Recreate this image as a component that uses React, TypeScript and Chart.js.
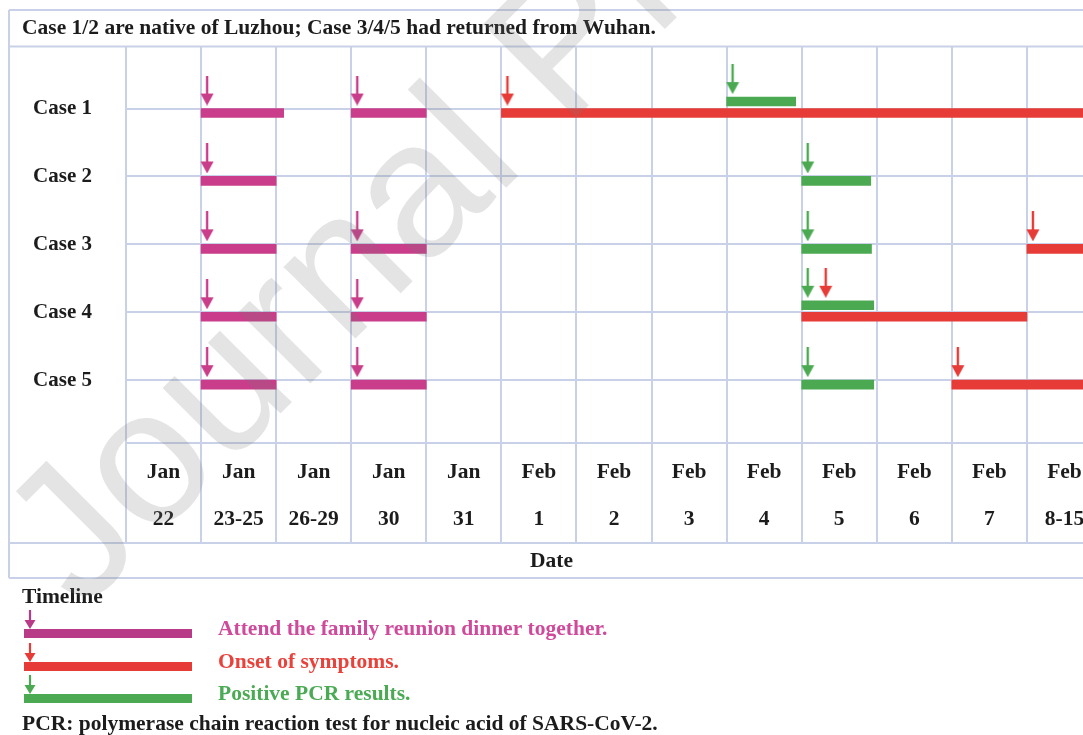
import React, { useEffect, useRef } from 'react';
import { Chart, registerables } from 'chart.js';

Chart.register(...registerables);

// ---------------- data ----------------
const TITLE_TEXT = 'Case 1/2 are native of Luzhou; Case 3/4/5 had returned from Wuhan.';
const DATE_MONTHS = ['Jan', 'Jan', 'Jan', 'Jan', 'Jan', 'Feb', 'Feb', 'Feb', 'Feb', 'Feb', 'Feb', 'Feb', 'Feb'];
const DATE_DAYS = ['22', '23-25', '26-29', '30', '31', '1', '2', '3', '4', '5', '6', '7', '8-15'];
const CASES = ['Case 1', 'Case 2', 'Case 3', 'Case 4', 'Case 5'];
const X_AXIS_TITLE = 'Date';

// [case number, first date column, end column, lane (0 = on the row line, 1 = above it)]
const DINNER_EVENTS: number[][] = [
  [1, 1, 2.1, 0], [1, 3, 4, 0],
  [2, 1, 2, 0],
  [3, 1, 2, 0], [3, 3, 4, 0],
  [4, 1, 2, 0], [4, 3, 4, 0],
  [5, 1, 2, 0], [5, 3, 4, 0],
];
const PCR_EVENTS: number[][] = [
  [1, 8, 8.92, 1],
  [2, 9, 9.92, 0],
  [3, 9, 9.93, 0],
  [4, 9, 9.96, 1],
  [5, 9, 9.96, 0],
];
const ONSET_EVENTS: number[][] = [
  [1, 5, 13, 0],
  [3, 12, 13, 0],
  [4, 9, 12, 0],
  [5, 11, 13, 0],
];

const LEGEND_TITLE = 'Timeline';
const LEGEND_LABELS = [
  'Attend the family reunion dinner together.',
  'Onset of symptoms.',
  'Positive PCR results.',
];
const FOOTNOTE = 'PCR: polymerase chain reaction test for nucleic acid of SARS-CoV-2.';
const WATERMARK = 'Journal Pre-proof';

// ---------------- style / layout ----------------
const SERIF = '"Liberation Serif", "Times New Roman", serif';
const INK = '#1c1c1c';
const GRID = '#C8D1E7';
const PINK = '#C93D8A';
const RED = '#E63B36';
const GREEN = '#4BAA51';
const LEGEND_BAR_COLORS = ['#B83B87', '#E63B36', '#4BAA51'];
const LEGEND_TEXT_COLORS = ['#CF4A9B', '#E8423B', '#4BAA54'];
const FONT_PX = 21.5;

const CANVAS_W = 1111;
const CANVAS_H = 735;
const CHART_TOP = 46;
const CHART_BOTTOM = 443;
const Y_MIN = 0.088;
const Y_MAX = 5.926;
const UNIT_PX = (CHART_BOTTOM - CHART_TOP) / (Y_MAX - Y_MIN);
const LANE_SHIFT_PX = [4.5, -7];
const BAR_PX = 9;
const ARROW_DX = 0.08;
const ARROW_STEP = 0.24;

function makeArrow(color: string, w: number, h: number, headH: number, shaftW: number) {
  const c = document.createElement('canvas');
  c.width = w;
  c.height = h;
  const ctx = c.getContext('2d')!;
  ctx.fillStyle = color;
  ctx.fillRect(w / 2 - shaftW / 2, 0, shaftW, h - headH + 1);
  ctx.beginPath();
  ctx.moveTo(0.5, h - headH);
  ctx.lineTo(w - 0.5, h - headH);
  ctx.lineTo(w / 2, h);
  ctx.closePath();
  ctx.fill();
  return c;
}

function barData(events: number[][]) {
  return events.map(([c, s, e, lane]) => ({ x: [s, e], y: c + LANE_SHIFT_PX[lane] / UNIT_PX }));
}

function buildArrows(seriesList: number[][][]) {
  const all = seriesList.flat();
  const used = new Map<string, number>();
  return seriesList.map((events) =>
    events.map(([c, s]) => {
      const key = c + ':' + s;
      const n = used.get(key) || 0;
      used.set(key, n + 1);
      const topLane = Math.max(...all.filter((e) => e[0] === c && e[1] === s).map((e) => e[3]));
      const tipPx = LANE_SHIFT_PX[topLane] - BAR_PX / 2 - 3;
      return { x: s + ARROW_DX + n * ARROW_STEP, y: c + (tipPx - 15) / UNIT_PX };
    })
  );
}

const framePlugin = {
  id: 'tableFrame',
  beforeDraw(chart: any) {
    const { ctx, width } = chart;
    const xScale = chart.scales.x;
    ctx.save();
    ctx.fillStyle = '#ffffff';
    ctx.fillRect(0, 0, width, chart.height);

    const left = 9;
    const top = 10;
    const bottom = 578;
    const dateLine = xScale.bottom;
    ctx.strokeStyle = GRID;
    ctx.lineWidth = 2;
    ctx.beginPath();
    [top, chart.chartArea.top, dateLine, bottom].forEach((y) => {
      ctx.moveTo(left, y);
      ctx.lineTo(width, y);
    });
    ctx.moveTo(left, top);
    ctx.lineTo(left, bottom);
    ctx.stroke();

    ctx.fillStyle = INK;
    ctx.textBaseline = 'middle';
    ctx.textAlign = 'left';
    ctx.font = 'bold ' + FONT_PX + 'px ' + SERIF;
    ctx.fillText(TITLE_TEXT, 22, 28);

    ctx.textAlign = 'center';
    ctx.fillText(X_AXIS_TITLE, (left + chart.chartArea.right) / 2 - 4, (dateLine + bottom) / 2 + 1);

    ctx.textAlign = 'left';
    ctx.fillText(LEGEND_TITLE, 22, 597);

    const rowY = [629, 662, 694];
    LEGEND_LABELS.forEach((label, i) => {
      const y = rowY[i];
      ctx.fillStyle = LEGEND_BAR_COLORS[i];
      ctx.fillRect(24, y, 168, 9);
      const arrow = makeArrow(LEGEND_BAR_COLORS[i], 12, 19, 9, 2.2);
      ctx.drawImage(arrow, 30 - 6, y - 19);
      ctx.fillStyle = LEGEND_TEXT_COLORS[i];
      ctx.fillText(label, 218, y);
    });

    ctx.fillStyle = INK;
    ctx.fillText(FOOTNOTE, 22, 724);
    ctx.restore();
  },
  afterDraw(chart: any) {
    const { ctx } = chart;
    ctx.save();
    ctx.translate(82, 612);
    ctx.rotate(-Math.PI / 4);
    ctx.font = '192px "Liberation Sans", Arial, sans-serif';
    ctx.fillStyle = 'rgba(120,120,120,0.2)';
    ctx.textBaseline = 'alphabetic';
    ctx.fillText(WATERMARK, 0, 0);
    ctx.restore();
  },
};

export default function App() {
  const ref = useRef<HTMLCanvasElement>(null);

  useEffect(() => {
    if (!ref.current) return;
    const [dinnerArrows, pcrArrows, onsetArrows] = buildArrows([DINNER_EVENTS, PCR_EVENTS, ONSET_EVENTS]);
    const arrowPink = makeArrow(PINK, 14, 30, 12, 2.4);
    const arrowGreen = makeArrow(GREEN, 14, 30, 12, 2.4);
    const arrowRed = makeArrow(RED, 14, 30, 12, 2.4);

    const chart = new Chart(ref.current, {
      type: 'bar',
      data: {
        datasets: [
          { type: 'scatter', label: 'dinner arrow', data: dinnerArrows, pointStyle: arrowPink, pointRadius: 6, order: 0 } as any,
          { type: 'scatter', label: 'pcr arrow', data: pcrArrows, pointStyle: arrowGreen, pointRadius: 6, order: 0 } as any,
          { type: 'scatter', label: 'onset arrow', data: onsetArrows, pointStyle: arrowRed, pointRadius: 6, order: 0 } as any,
          { type: 'bar', label: LEGEND_LABELS[0], data: barData(DINNER_EVENTS), backgroundColor: PINK, order: 1 } as any,
          { type: 'bar', label: LEGEND_LABELS[1], data: barData(ONSET_EVENTS), backgroundColor: RED, order: 1 } as any,
          { type: 'bar', label: LEGEND_LABELS[2], data: barData(PCR_EVENTS), backgroundColor: GREEN, order: 1 } as any,
        ],
      },
      options: {
        indexAxis: 'y',
        responsive: false,
        maintainAspectRatio: false,
        animation: false,
        devicePixelRatio: 1,
        events: [],
        layout: { padding: { top: CHART_TOP, left: 0, right: 9, bottom: CANVAS_H - CHART_BOTTOM - 100 } },
        datasets: {
          bar: {
            grouped: false,
            barThickness: BAR_PX,
            categoryPercentage: 1,
            barPercentage: 1,
            borderWidth: 0,
            borderSkipped: false,
          },
        } as any,
        plugins: {
          legend: { display: false },
          tooltip: { enabled: false },
          title: { display: false },
        },
        scales: {
          x: {
            type: 'linear',
            position: 'bottom',
            offset: false,
            min: 0,
            max: DATE_DAYS.length,
            afterBuildTicks: (axis: any) => {
              axis.ticks = DATE_DAYS.map((_, i) => ({ value: i + 0.5 }));
            },
            afterFit: (axis: any) => {
              axis.height = 100;
            },
            grid: {
              offset: true,
              color: GRID,
              lineWidth: 2,
              drawTicks: true,
              tickLength: 100,
              tickColor: GRID,
              tickWidth: 2,
            },
            border: { display: true, color: GRID, width: 2 },
            ticks: {
              autoSkip: false,
              maxRotation: 0,
              minRotation: 0,
              padding: -94,
              color: INK,
              font: { family: SERIF, size: FONT_PX, weight: 'bold', lineHeight: 47 / FONT_PX },
              callback: (_v: any, i: number) => [DATE_MONTHS[i], DATE_DAYS[i]],
            },
          },
          y: {
            type: 'linear',
            reverse: true,
            offset: false,
            min: Y_MIN,
            max: Y_MAX,
            bounds: 'data',
            afterBuildTicks: (axis: any) => {
              axis.ticks = CASES.map((_, i) => ({ value: i + 1 }));
            },
            afterFit: (axis: any) => {
              axis.width = 126;
            },
            grid: { offset: false, color: GRID, lineWidth: 2, drawTicks: false },
            border: { display: true, color: GRID, width: 2 },
            ticks: {
              padding: 34,
              crossAlign: 'near',
              color: INK,
              font: { family: SERIF, size: 21, weight: 'bold' },
              callback: (_v: any, i: number) => CASES[i],
            },
          },
        },
      } as any,
      plugins: [framePlugin],
    });
    return () => chart.destroy();
  }, []);

  return (
    <div
      style={{
        position: 'fixed',
        left: 0,
        top: 0,
        width: 1083,
        height: 735,
        overflow: 'hidden',
        background: '#ffffff',
      }}
    >
      <canvas ref={ref} width={CANVAS_W} height={CANVAS_H} style={{ display: 'block', width: CANVAS_W, height: CANVAS_H }} />
    </div>
  );
}
